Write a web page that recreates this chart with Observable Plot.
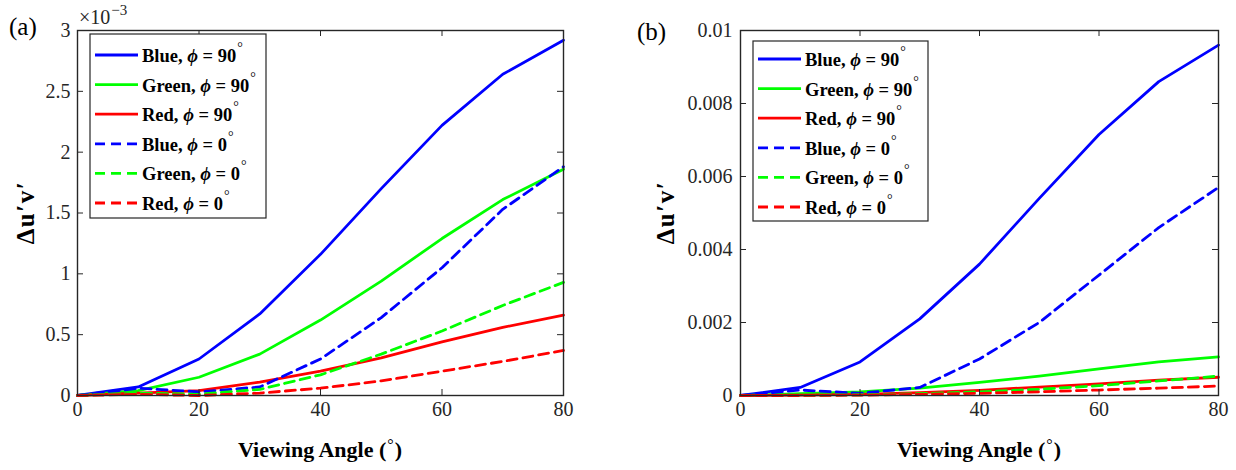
<!DOCTYPE html>
<html><head><meta charset="utf-8">
<script src="https://cdn.jsdelivr.net/npm/d3@7"></script>
<script src="https://cdn.jsdelivr.net/npm/@observablehq/plot@0.6"></script>
<style>
body{margin:0;background:#fff;}
#wrap{display:flex;width:1236px;height:470px;overflow:hidden;}
#wrap svg{display:block;}
#wrap svg text, #wrap svg tspan{font-family:"Liberation Serif", serif !important;}
</style></head><body><div id="wrap"></div>
<script>
// ---------- data ----------
const angles = [0, 10, 20, 30, 40, 50, 60, 70, 80];
const seriesLabels = ["Blue", "Green", "Red", "Blue", "Green", "Red"];
const seriesPhi = ["90", "90", "90", "0", "0", "0"];
const xTicks = [0, 20, 40, 60, 80];

// panel (a), values in units of 10^-3
const aBlue90  = [0, 0.07, 0.30, 0.67, 1.16, 1.70, 2.22, 2.64, 2.92];
const aGreen90 = [0, 0.04, 0.15, 0.34, 0.62, 0.94, 1.29, 1.61, 1.86];
const aRed90   = [0, 0.02, 0.04, 0.11, 0.20, 0.31, 0.44, 0.56, 0.66];
const aBlue0   = [0, 0.06, 0.03, 0.07, 0.30, 0.64, 1.05, 1.53, 1.88];
const aGreen0  = [0, 0.02, 0.01, 0.05, 0.17, 0.34, 0.53, 0.74, 0.93];
const aRed0    = [0, 0.01, 0.00, 0.02, 0.06, 0.12, 0.20, 0.28, 0.37];
const aYTicks  = [0, 0.5, 1, 1.5, 2, 2.5, 3];

// panel (b)
const bBlue90  = [0, 0.00022, 0.00092, 0.0021, 0.0036, 0.0054, 0.00715, 0.0086, 0.0096];
const bGreen90 = [0, 0.00005, 0.0001, 0.0002, 0.00036, 0.00053, 0.00073, 0.00092, 0.00106];
const bRed90   = [0, 0.00001, 0.00003, 0.00008, 0.00014, 0.00023, 0.00032, 0.00042, 0.0005];
const bBlue0   = [0, 0.00015, 0.00006, 0.00022, 0.001, 0.002, 0.0033, 0.0046, 0.0057];
const bGreen0  = [0, 0.00001, 0.00002, 0.00005, 0.0001, 0.00017, 0.00027, 0.0004, 0.00053];
const bRed0    = [0, 0, 0.00001, 0.00003, 0.00006, 0.0001, 0.00015, 0.0002, 0.00026];
const bYTicks  = [0, 0.002, 0.004, 0.006, 0.008, 0.01];

// ---------- styles ----------
const colors = ["#0000ff", "#00ff00", "#ff0000", "#0000ff", "#00ff00", "#ff0000"];
const dashes = [null, null, null, "10,6", "10,6", "10,6"];
const INK = "#262626";
const FONT = "Liberation Serif, serif";

function txt(sel, css) { for (const k in css) sel.style(k, css[k]); return sel; }

function makePanel(cfg) {
  const W = 618, H = 470, mt = 30, mb = 75;
  const pw = W - cfg.ml - cfg.mr, ph = H - mt - mb;
  const lineMarks = cfg.series.map((vals, k) =>
    Plot.line(angles.map((a, i) => ({angle: a, value: vals[i]})), {
      x: "angle", y: "value", stroke: colors[k], strokeWidth: 2.8,
      strokeDasharray: dashes[k], strokeLinejoin: "round"
    }));
  const plot = Plot.plot({
    width: W, height: H, marginLeft: cfg.ml, marginRight: cfg.mr, marginTop: mt, marginBottom: mb,
    x: {domain: [0, 80], label: null},
    y: {domain: cfg.yDomain, label: null},
    style: {fontFamily: FONT, fontSize: "20px", color: INK, background: "white", overflow: "visible"},
    marks: [
      ...lineMarks,
      Plot.tickX(xTicks, {x: d => d, insetTop: ph - 6, stroke: INK}),
      Plot.tickX(xTicks, {x: d => d, insetBottom: ph - 6, stroke: INK}),
      Plot.tickY(cfg.yTicks, {y: d => d, insetRight: pw - 6, stroke: INK}),
      Plot.tickY(cfg.yTicks, {y: d => d, insetLeft: pw - 6, stroke: INK}),
      Plot.frame({stroke: INK, strokeWidth: 1.4}),
      Plot.axisX(xTicks, {anchor: "bottom", tickSize: 0, tickPadding: 6, label: null, fill: INK, fontSize: 20}),
      Plot.axisY(cfg.yTicks, {anchor: "left", tickSize: 0, tickPadding: cfg.yPad, label: null, tickFormat: cfg.yFormat, fill: INK, fontSize: 20})
    ]
  });
  const svg = d3.select(plot);
  const g = svg.append("g").attr("text-anchor", "start").attr("fill", "#000");

  // x axis title
  const xt = txt(g.append("text").attr("x", cfg.ml + pw / 2).attr("y", 457).attr("text-anchor", "middle"),
    {"font-size": "22px", "font-weight": "bold"});
  xt.append("tspan").text("Viewing Angle (");
  txt(xt.append("tspan").text("°").attr("dy", -7).attr("dx", 1), {"font-weight": "normal", "font-size": "16px"});
  xt.append("tspan").text(")").attr("dy", 7).attr("dx", 1);

  // y axis title
  txt(g.append("text").attr("transform", `translate(${cfg.yTitleX},${mt + ph / 2}) rotate(-90)`)
    .attr("text-anchor", "middle").text("Δu′v′"),
    {"font-size": "25px", "font-weight": "bold", "letter-spacing": "1.5px"});

  // panel letter
  txt(g.append("text").attr("x", cfg.letterX).attr("y", cfg.letterY).text(cfg.letter), {"font-size": "25px"});

  if (cfg.exponent) {
    const ex = txt(g.append("text").attr("x", cfg.ml + 2).attr("y", 24).attr("fill", INK), {"font-size": "20px"});
    ex.append("tspan").text("×10");
    txt(ex.append("tspan").text("−3").attr("dy", -9).attr("dx", 1), {"font-size": "15px"});
  }

  // legend
  const L = cfg.legend;
  g.append("rect").attr("x", L.x).attr("y", L.y).attr("width", L.w).attr("height", L.h)
    .attr("fill", "white").attr("stroke", INK).attr("stroke-width", 1.2);
  seriesLabels.forEach((name, k) => {
    const y = L.row0 + k * 29.6;
    g.append("line").attr("x1", L.x + 5).attr("x2", L.x + 48).attr("y1", y).attr("y2", y)
      .attr("stroke", colors[k]).attr("stroke-width", 2.8).attr("stroke-dasharray", dashes[k]);
    const t = txt(g.append("text").attr("x", L.x + 52).attr("y", y + 7), {"font-size": "18.5px", "font-weight": "bold"});
    t.append("tspan").text(name + ", ");
    txt(t.append("tspan").text("ϕ"), {"font-style": "italic"});
    t.append("tspan").text(" = " + seriesPhi[k]);
    txt(t.append("tspan").text("°").attr("dy", -10).attr("dx", 1), {"font-weight": "normal", "font-size": "14px"});
  });
  return plot;
}

const wrap = document.getElementById("wrap");
wrap.appendChild(makePanel({
  ml: 77, mr: 55, yDomain: [0, 3], yTicks: aYTicks, yFormat: d => String(d), yPad: 7,
  series: [aBlue90, aGreen90, aRed90, aBlue0, aGreen0, aRed0],
  yTitleX: 34, letter: "(a)", letterX: 9, letterY: 35, exponent: true,
  legend: {x: 90, y: 34, w: 176, h: 184, row0: 55}
}));
wrap.appendChild(makePanel({
  ml: 122, mr: 18, yDomain: [0, 0.01], yTicks: bYTicks, yFormat: d => d === 0 ? "0" : String(+d.toFixed(3)), yPad: 8,
  series: [bBlue90, bGreen90, bRed90, bBlue0, bGreen0, bRed0],
  yTitleX: 56, letter: "(b)", letterX: 19, letterY: 40, exponent: false,
  legend: {x: 135, y: 41, w: 175, h: 180, row0: 59}
}));
</script></body></html>
